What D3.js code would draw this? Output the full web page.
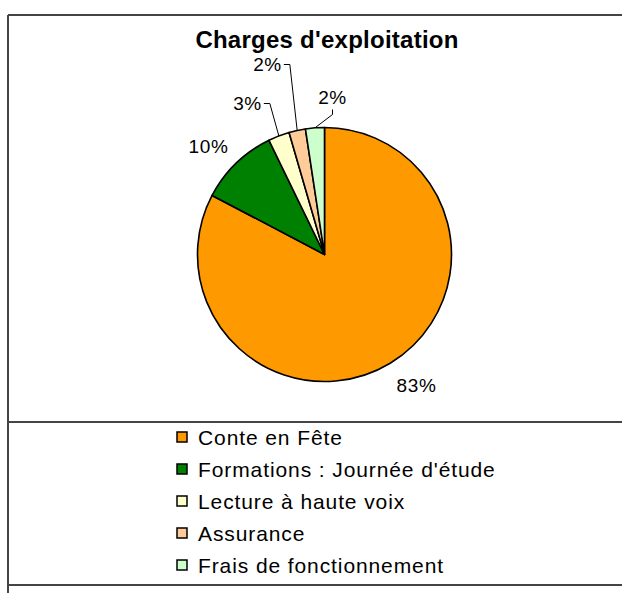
<!DOCTYPE html>
<html>
<head>
<meta charset="utf-8">
<script src="https://cdn.jsdelivr.net/npm/d3@7"></script>
<style>
    body { margin: 0; background: #fff; }
    svg text { font-family: "Liberation Sans", Arial, sans-serif; fill: #000; }
</style>
</head>
<body>
<div id="content"></div>
<script>
// chart data
const categories = ['Conte en Fête', 'Formations : Journée d\'étude', 'Lecture à haute voix', 'Assurance', 'Frais de fonctionnement'];
const values = [82.7, 10.1, 2.7, 2.1, 2.4];
const colors = ['#ff9900', '#008000', '#ffffcc', '#ffcc99', '#ccffcc'];
const title = 'Charges d\'exploitation';

// label placement, relative to pie centre
const labelPos = [
    { dx: 92, dy: 131, leader: null },
    { dx: -116, dy: -108, leader: null },
    { dx: -77, dy: -151, leader: 'right' },
    { dx: -57, dy: -190, leader: 'right' },
    { dx: 8, dy: -157, leader: 'below' }
];

const width = 622, height = 593;
const cx = 324.5, cy = 254.5, radius = 127;

const svg = d3.select('#content').append('svg')
    .attr('width', width)
    .attr('height', height);

// frame
const frame = svg.append('g')
    .attr('stroke', '#444')
    .attr('stroke-width', 2);
frame.append('line').attr('x1', 8).attr('x2', width).attr('y1', 15).attr('y2', 15);
frame.append('line').attr('x1', 8).attr('x2', 8).attr('y1', 15).attr('y2', height);
frame.append('line').attr('x1', 8).attr('x2', width).attr('y1', 422).attr('y2', 422);
frame.append('line').attr('x1', 8).attr('x2', width).attr('y1', 585).attr('y2', 585);

svg.append('text')
    .attr('x', 327)
    .attr('y', 48)
    .attr('text-anchor', 'middle')
    .style('font-size', '24px')
    .style('letter-spacing', '0.25px')
    .style('font-weight', 'bold')
    .text(title);

const pie = d3.pie().sort(null).value(d => d);
const arcs = pie(values);
const arc = d3.arc().innerRadius(0).outerRadius(radius);
const total = d3.sum(values);
const fmt = v => Math.round(v / total * 100) + '%';

const g = svg.append('g').attr('transform', `translate(${cx},${cy})`);

g.selectAll('path.slice')
    .data(arcs)
    .enter().append('path')
    .classed('slice', true)
    .attr('d', arc)
    .attr('fill', (d, i) => colors[i])
    .attr('stroke', '#000')
    .attr('stroke-width', 1.6)
    .attr('stroke-linejoin', 'round');

// labels
const labels = g.selectAll('text.pct')
    .data(arcs)
    .enter().append('text')
    .classed('pct', true)
    .attr('x', (d, i) => labelPos[i].dx)
    .attr('y', (d, i) => labelPos[i].dy)
    .attr('dy', '0.36em')
    .attr('text-anchor', 'middle')
    .style('font-size', '19px')
    .style('letter-spacing', '0.6px')
    .text(d => fmt(d.value));

// leader lines
labels.each(function(d, i) {
    const p = labelPos[i];
    if (!p.leader) return;
    const bb = this.getBBox();
    const mid = (d.startAngle + d.endAngle) / 2;
    const end = [Math.sin(mid) * radius, -Math.cos(mid) * radius];
    let pts;
    if (p.leader === 'right') {
        const sx = bb.x + bb.width + 2, sy = p.dy;
        pts = [[sx, sy], [sx + 6, sy], end];
    } else {
        const sx = p.dx, sy = p.dy + 12;
        pts = [[sx, sy], [sx, sy + 5], end];
    }
    g.append('path')
        .attr('d', d3.line()(pts))
        .attr('fill', 'none')
        .attr('stroke', '#000')
        .attr('stroke-width', 1);
});

// legend
const legend = svg.append('g').attr('transform', 'translate(177,437)');
const rows = legend.selectAll('g.row')
    .data(categories)
    .enter().append('g')
    .classed('row', true)
    .attr('transform', (d, i) => `translate(0,${i * 32})`);

rows.append('rect')
    .attr('x', 0)
    .attr('y', -5)
    .attr('width', 10)
    .attr('height', 10)
    .attr('fill', (d, i) => colors[i])
    .attr('stroke', '#000')
    .attr('stroke-width', 1.5);

rows.append('text')
    .attr('x', 21)
    .attr('y', 0)
    .attr('dy', '0.36em')
    .style('font-size', '21px')
    .style('letter-spacing', '0.9px')
    .text(d => d);
</script>
</body>
</html>
